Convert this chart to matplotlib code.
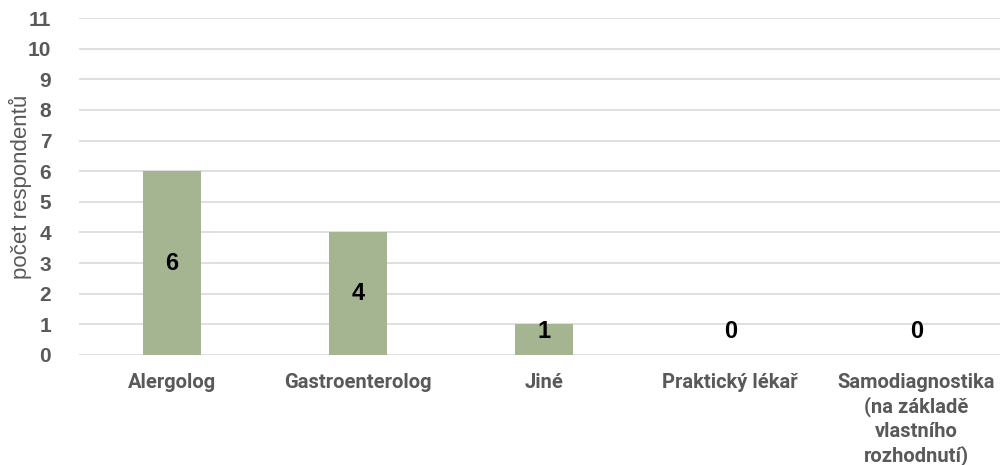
import matplotlib
matplotlib.use("Agg")
import matplotlib.pyplot as plt

categories = ["Alergolog", "Gastroenterolog", "Jiné", "Praktický lékař",
              "Samodiagnostika\n(na základě\nvlastního\nrozhodnutí)"]
counts = [6, 4, 1, 0, 0]
y_ticks = list(range(0, 12))

bar_color = "#A5B592"
text_gray = "#595959"

fig = plt.figure(figsize=(10, 4.65), dpi=100)
ax = fig.add_axes([0.079, 0.2366, 0.921, 0.7246])

x = range(len(categories))
ax.bar(x, counts, width=0.31, color=bar_color, zorder=3)

for i, v in enumerate(counts):
    ax.text(i, max(v / 2, 0.78), str(v), ha="center", va="center",
            fontsize=17, fontweight="bold", color="black",
            family="Liberation Sans", zorder=4)

ax.set_ylim(0, 11)
ax.set_xlim(-0.5, 4.45)
ax.set_yticks(y_ticks)
ax.set_yticklabels([str(t) for t in y_ticks], fontsize=15, fontweight="bold",
                   color=text_gray, family="Liberation Sans")
ax.grid(axis="y", color="#D9D9D9", linewidth=1.2, zorder=0)
ax.tick_params(axis="y", length=0, pad=20)
ax.tick_params(axis="x", length=0, pad=13)
ax.set_xticks(list(x))
ax.set_xticklabels(categories, fontsize=14.5, fontweight="bold", color=text_gray,
                   family="Roboto", linespacing=1.29, va="top")
for s in ax.spines.values():
    s.set_visible(False)

ax.set_ylabel("počet respondentů", fontsize=16, color=text_gray,
              family="Liberation Sans", va="center")
ax.yaxis.set_label_coords(-0.064, 0.5)

fig.savefig("out.png", dpi=100)
